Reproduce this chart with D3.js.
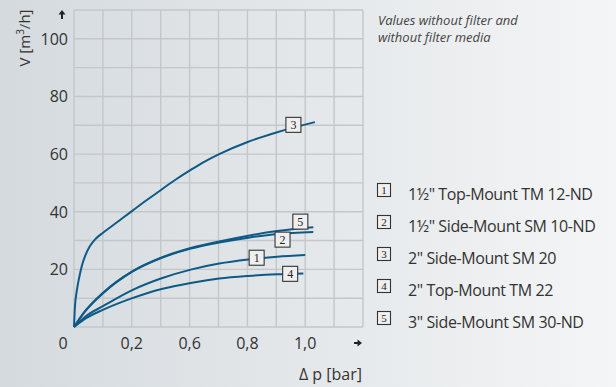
<!DOCTYPE html>
<html>
<head>
  <meta charset="utf-8">
  <script src="https://d3js.org/d3.v7.min.js"></script>
  <style>
    body { margin: 0; }
    svg { display: block; font-family: "Open Sans", Roboto, sans-serif; }
  </style>
</head>
<body>
<script>
  "use strict";

  // curve data: [delta p (bar), V (m3/h)]
  var curve1 = [[0,0],[0.047,3.5],[0.127,7.3],[0.252,12.8],[0.379,16.9],[0.505,19.9],[0.628,22],[0.754,23.4],[0.879,24.4],[1.0,25]];
  var curve2 = [[0,0],[0.047,5.3],[0.127,11.8],[0.252,19.2],[0.379,24],[0.505,27.2],[0.628,29.3],[0.754,31],[0.879,32.3],[1.035,33]];
  var curve3 = [[0,0],[0.004,7],[0.012,12.5],[0.022,17],[0.035,21.5],[0.05,25],[0.069,28.1],[0.095,30.7],[0.127,32.8],[0.192,36.7],[0.252,40.3],[0.3,43.2],[0.358,46.5],[0.401,49],[0.45,51.7],[0.505,54.5],[0.565,57.4],[0.628,60],[0.754,64.3],[0.879,67.6],[1.042,71.1]];
  var curve4 = [[0,0],[0.047,2.8],[0.127,6],[0.252,10],[0.379,13.2],[0.505,15.3],[0.628,16.8],[0.754,17.7],[0.879,18.3],[0.992,18.6]];
  var curve5 = [[0,0],[0.047,5.4],[0.127,12],[0.252,19.3],[0.379,24.1],[0.505,27.4],[0.628,29.7],[0.754,31.7],[0.879,33.3],[1.035,34.6]];

  var seriesNames = ["1\u00bd\" Top-Mount TM 12-ND", "1\u00bd\" Side-Mount SM 10-ND", "2\" Side-Mount SM 20", "2\" Top-Mount TM 22", "3\" Side-Mount SM 30-ND"];
  var yTicks = [20, 40, 60, 80, 100];
  var xTicks = [0.25, 0.5, 0.75, 1.0];
  var xTickLabels = ["0,2", "0,6", "0,8", "1,0"];
  // where each number box sits on its curve: [x value, vertical shift px]
  var boxAnchors = [[0.79, -1], [0.902, 6], [0.949, -3], [0.935, 0], [0.979, -7]];

  var W = 616, H = 387;
  var curves = [curve1, curve2, curve3, curve4, curve5];

  var svg = d3.select("body").append("svg").attr("width", W).attr("height", H);

  var grad = svg.append("defs").append("linearGradient").attr("id", "bg");
  grad.append("stop").attr("offset", "0%").attr("stop-color", "#d4dade");
  grad.append("stop").attr("offset", "100%").attr("stop-color", "#f4f5f6");
  svg.append("rect").attr("width", W).attr("height", H).attr("fill", "url(#bg)");

  var x = d3.scaleLinear().domain([0, 1.25]).range([74, 363]);
  var y = d3.scaleLinear().domain([0, 110]).range([327, 10]);

  // grid
  var grid = svg.append("g").attr("stroke", "#c3c7ca").attr("stroke-width", 1.4);
  grid.selectAll(".v").data(d3.range(0, 11)).enter().append("line")
    .attr("x1", function (d) { return x(d * 0.125); })
    .attr("x2", function (d) { return x(d * 0.125); })
    .attr("y1", y(0)).attr("y2", y(110));
  grid.selectAll(".h").data(d3.range(0, 12)).enter().append("line")
    .attr("y1", function (d) { return y(d * 10); })
    .attr("y2", function (d) { return y(d * 10); })
    .attr("x1", x(0)).attr("x2", x(1.25));

  // y labels
  svg.selectAll(".yl").data(yTicks).enter().append("text")
    .attr("x", 68).attr("y", function (d) { return y(d) + 6; })
    .attr("text-anchor", "end").attr("font-size", 16).attr("fill", "#333")
    .text(function (d) { return d; });
  svg.append("text").attr("x", 63).attr("y", 349).attr("text-anchor", "middle")
    .attr("font-size", 16).attr("fill", "#333").text("0");

  // x labels
  svg.selectAll(".xl").data(xTicks).enter().append("text")
    .attr("x", function (d) { return x(d); }).attr("y", 349)
    .attr("text-anchor", "middle").attr("font-size", 16).attr("fill", "#333")
    .text(function (d, i) { return xTickLabels[i]; });

  // axis titles and arrows
  var yt = svg.append("text").attr("transform", "translate(30,38) rotate(-90)")
    .attr("text-anchor", "middle").attr("font-size", 15).attr("fill", "#333");
  yt.append("tspan").text("V [m");
  yt.append("tspan").attr("font-size", 10).attr("dy", -6).text("3");
  yt.append("tspan").attr("dy", 6).text("/h]");
  svg.append("path").attr("d", "M62,10 L65.5,14.5 L63,14.5 L63,19 L61,19 L61,14.5 L58.5,14.5 Z").attr("fill", "#222");
  svg.append("path").attr("d", "M362,343 L357.5,339.5 L357.5,342 L354,342 L354,344 L357.5,344 L357.5,346.5 Z").attr("fill", "#222");
  svg.append("text").attr("x", 362).attr("y", 380).attr("text-anchor", "end")
    .attr("font-size", 16).attr("fill", "#333").text("\u0394 p [bar]");

  // curves
  var line = d3.line().x(function (d) { return x(d[0]); }).y(function (d) { return y(d[1]); })
    .curve(d3.curveMonotoneX);
  svg.append("g").selectAll("path").data(curves).enter().append("path")
    .attr("d", line).attr("fill", "none").attr("stroke", "#0e5a86").attr("stroke-width", 2);

  function valueAt(c, xv) {
    for (var i = 1; i < c.length; i++) {
      if (xv <= c[i][0]) {
        var t = (xv - c[i - 1][0]) / (c[i][0] - c[i - 1][0]);
        return c[i - 1][1] + t * (c[i][1] - c[i - 1][1]);
      }
    }
    return c[c.length - 1][1];
  }

  function numberBox(g, cx, cy, n, size, fs) {
    g.append("rect").attr("x", cx - size / 2).attr("y", cy - size / 2)
      .attr("width", size).attr("height", size)
      .attr("fill", "#efefef").attr("stroke", "#333").attr("stroke-width", 1.1);
    g.append("text").attr("x", cx).attr("y", cy + fs * 0.35).attr("text-anchor", "middle")
      .attr("font-family", "'Liberation Serif', 'DejaVu Serif', serif")
      .attr("font-size", fs).attr("fill", "#222").text(n);
  }

  var boxes = svg.append("g");
  boxAnchors.forEach(function (a, i) {
    numberBox(boxes, x(a[0]), y(valueAt(curves[i], a[0])) + a[1], i + 1, 15, 12);
  });

  // note
  var note = svg.append("text").attr("font-size", 13).attr("font-style", "italic").attr("fill", "#444");
  note.append("tspan").attr("x", 378).attr("y", 25).text("Values without filter and");
  note.append("tspan").attr("x", 378).attr("y", 42).text("without filter media");

  // legend
  var legend = svg.append("g");
  seriesNames.forEach(function (name, i) {
    var cy = 190 + i * 32;
    numberBox(legend, 384, cy, i + 1, 13, 11);
    legend.append("text").attr("x", 408).attr("y", cy + 10).attr("font-size", 16)
      .attr("fill", "#333").attr("letter-spacing", -0.4).text(name);
  });
</script>
</body>
</html>
